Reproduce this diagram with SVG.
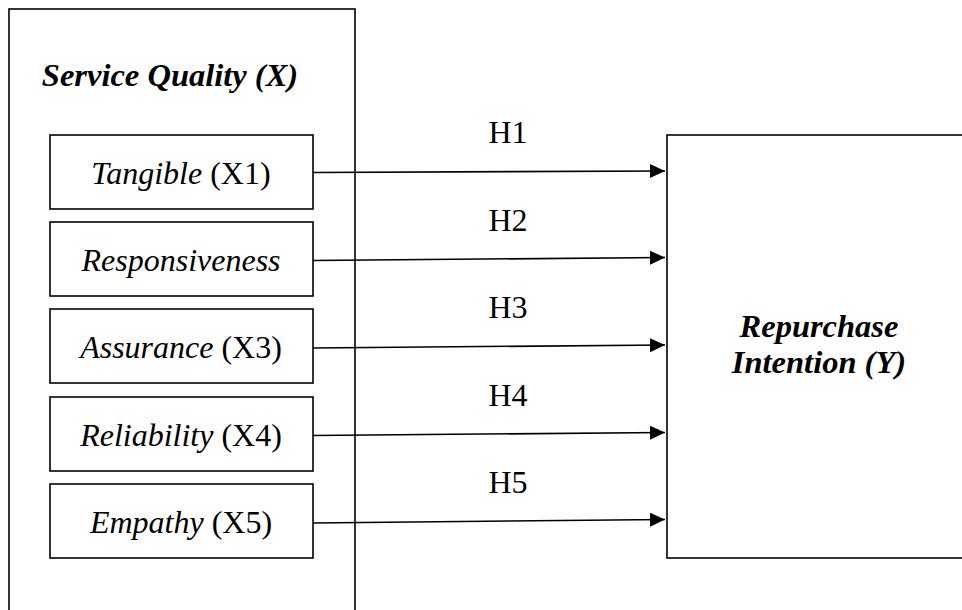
<svg xmlns="http://www.w3.org/2000/svg" width="962" height="610" viewBox="0 0 962 610">
<style>
.box{fill:#fff;stroke:#000;stroke-width:1.6}
.t{font-family:"Liberation Serif","Times New Roman",serif;font-size:32px;fill:#000;text-anchor:middle}
.it{font-style:italic}
.bi{font-style:italic;font-weight:bold;font-size:32.5px}
.edge{stroke:#000;stroke-width:1.6;fill:none;marker-end:url(#arr)}
</style>
<defs>
<marker id="arr" markerUnits="userSpaceOnUse" markerWidth="16" markerHeight="16" refX="15" refY="7" orient="auto">
<path d="M0,0 L15,7 L0,14 Z" fill="#000"/>
</marker>
</defs>
<rect width="962" height="610" fill="#fff"/>
<g id="service-quality">
<rect class="box" x="9" y="9" width="346" height="620"/>
<text class="t bi" x="170" y="86">Service Quality (X)</text>
</g>
<g id="repurchase-intention">
<rect class="box" x="667" y="135" width="320" height="423"/>
<text class="t bi" x="819" y="337">Repurchase</text>
<text class="t bi" x="819" y="373">Intention (Y)</text>
</g>
<g id="x1">
<rect class="box" x="50" y="135" width="263" height="74"/>
<text class="t" x="181" y="184"><tspan class="it">Tangible</tspan> (X1)</text>
</g>
<g id="x2">
<rect class="box" x="50" y="222" width="263" height="74"/>
<text class="t it" x="181" y="271">Responsiveness</text>
</g>
<g id="x3">
<rect class="box" x="50" y="309" width="263" height="74"/>
<text class="t" x="181" y="358"><tspan class="it">Assurance</tspan> (X3)</text>
</g>
<g id="x4">
<rect class="box" x="50" y="397" width="263" height="74"/>
<text class="t" x="181" y="446"><tspan class="it">Reliability</tspan> (X4)</text>
</g>
<g id="x5">
<rect class="box" x="50" y="484" width="263" height="74"/>
<text class="t" x="181" y="533"><tspan class="it">Empathy</tspan> (X5)</text>
</g>
<g id="connectors">
<line class="edge" x1="313" y1="172.5" x2="665" y2="171"/>
<line class="edge" x1="313" y1="260.5" x2="665" y2="257.5"/>
<line class="edge" x1="313" y1="348" x2="665" y2="345"/>
<line class="edge" x1="313" y1="435.5" x2="665" y2="432.5"/>
<line class="edge" x1="313" y1="523" x2="665" y2="519.5"/>
<text class="t" x="508" y="143">H1</text>
<text class="t" x="508" y="231">H2</text>
<text class="t" x="508" y="318">H3</text>
<text class="t" x="508" y="406">H4</text>
<text class="t" x="508" y="493">H5</text>
</g>
</svg>
